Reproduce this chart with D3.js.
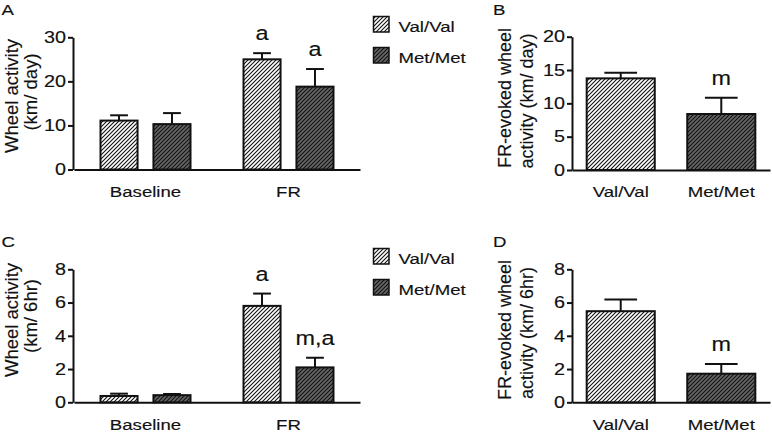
<!DOCTYPE html>
<html><head><meta charset="utf-8">
<script src="https://cdn.jsdelivr.net/npm/d3@7"></script>
<style>
html,body{margin:0;padding:0;background:#fff;}
svg{display:block;font-family:"Liberation Sans",Arial,sans-serif;}
svg text{stroke:#111;stroke-width:0.15px;}
</style></head>
<body>
<svg id="chart" width="772" height="432"></svg>
<script>
// ---------- data ----------
const genotypes = ["Val/Val", "Met/Met"];
const conditions = ["Baseline", "FR"];

// Panel A: wheel activity (km/day)
const dayValMean = [11.1, 25.0];
const dayValSem  = [1.2, 1.4];
const dayMetMean = [10.3, 18.8];
const dayMetSem  = [2.5, 4.0];
const dayValLetters = ["", "a"];
const dayMetLetters = ["", "a"];
const dayTicks = [0, 10, 20, 30];

// Panel B: FR-evoked wheel activity (km/day)
const evokedDayMean = [13.75, 8.4];
const evokedDaySem  = [0.85, 2.45];
const evokedDayLetters = ["", "m"];
const evokedDayTicks = [0, 5, 10, 15, 20];

// Panel C: wheel activity (km/6hr)
const hrValMean = [0.38, 5.8];
const hrValSem  = [0.14, 0.74];
const hrMetMean = [0.43, 2.1];
const hrMetSem  = [0.07, 0.58];
const hrValLetters = ["", "a"];
const hrMetLetters = ["", "m,a"];
const hrTicks = [0, 2, 4, 6, 8];

// Panel D: FR-evoked wheel activity (km/6hr)
const evokedHrMean = [5.48, 1.72];
const evokedHrSem  = [0.70, 0.58];
const evokedHrLetters = ["", "m"];
const evokedHrTicks = [0, 2, 4, 6, 8];

// ---------- drawing ----------
const SX = 1.2; // horizontal glyph stretch seen in the reference
const svg = d3.select("#chart");
const defs = svg.append("defs");

function hatch(id, bg, line, lw) {
  const p = defs.append("pattern").attr("id", id)
    .attr("patternUnits", "userSpaceOnUse").attr("width", 4).attr("height", 4);
  p.append("rect").attr("width", 4).attr("height", 4).attr("fill", bg);
  p.append("path").attr("d", "M-1,1 l2,-2 M0,4 l4,-4 M3,5 l2,-2")
    .attr("stroke", line).attr("stroke-width", lw).attr("stroke-linecap", "square");
}
hatch("hVal", "#ffffff", "#111", 1.1);
hatch("hMet", "#666666", "#111", 1.1);
const fillFor = g => g === "Val/Val" ? "url(#hVal)" : "url(#hMet)";

function txt(x, y, str, size, anchor = "start", rotate = false) {
  return svg.append("text")
    .attr("transform", `translate(${x},${y})` + (rotate ? " rotate(-90)" : ` scale(${SX},1)`))
    .attr("text-anchor", anchor)
    .attr("font-size", size)
    .attr("fill", "#111")
    .text(str);
}

function yAxis(y, ticks, x) {
  const g = svg.append("g").attr("transform", `translate(${x},0)`)
    .call(d3.axisLeft(y).tickValues(ticks).tickSize(5).tickSizeOuter(0).tickPadding(2));
  g.select(".domain").attr("stroke", "#111").attr("stroke-width", 2);
  g.selectAll(".tick line").attr("stroke", "#111").attr("stroke-width", 2);
  g.selectAll(".tick text")
    .attr("font-size", 16.5).attr("font-family", null).attr("fill", "#111")
    .attr("transform", `scale(${SX},1)`).attr("x", -7 / SX);
}

function xAxis(x, y0) {
  const g = svg.append("g").attr("transform", `translate(0,${y0})`)
    .call(d3.axisBottom(x).tickSize(0).tickSizeOuter(0));
  g.select(".domain").attr("stroke", "#111").attr("stroke-width", 2);
  g.selectAll(".tick text")
    .attr("font-size", 15.5).attr("font-family", null).attr("fill", "#111")
    .attr("dy", null).attr("y", 27.5).attr("transform", `scale(${SX},1)`);
}

function bar(x, w, y, mean, sem, genotype, letter) {
  const y0 = y(0);
  const top = y(mean + sem);
  const cx = x + w / 2;
  svg.append("line").attr("x1", cx).attr("x2", cx).attr("y1", y(mean)).attr("y2", top)
    .attr("stroke", "#111").attr("stroke-width", 2);
  svg.append("line").attr("x1", cx - w * 0.24).attr("x2", cx + w * 0.24).attr("y1", top).attr("y2", top)
    .attr("stroke", "#111").attr("stroke-width", 2);
  svg.append("rect").attr("x", x).attr("y", y(mean)).attr("width", w).attr("height", y0 - y(mean))
    .attr("fill", fillFor(genotype)).attr("stroke", "#111").attr("stroke-width", 2);
  if (letter) txt(cx, top - 13, letter, 19.5, "middle");
}

function groupedPanel(opts) {
  const y = d3.scaleLinear().domain([0, opts.max]).range([opts.yBottom, opts.yTop]);
  const x0 = d3.scaleBand().domain(conditions).range([opts.xLeft, opts.xRight]).padding(0);
  const x1 = d3.scaleBand().domain(genotypes).range([26.5, 116.5]).paddingInner(0.3).paddingOuter(0);
  const series = {
    "Val/Val": [opts.valMean, opts.valSem, opts.valLetters],
    "Met/Met": [opts.metMean, opts.metSem, opts.metLetters]
  };
  xAxis(x0, opts.yBottom);
  conditions.forEach((c, i) => {
    genotypes.forEach(gt => {
      const [m, s, l] = series[gt];
      bar(x0(c) + x1(gt), x1.bandwidth(), y, m[i], s[i], gt, l[i]);
    });
  });
  yAxis(y, opts.ticks, opts.xLeft - 1);
}

function simplePanel(opts) {
  const y = d3.scaleLinear().domain([0, opts.max]).range([opts.yBottom, opts.yTop]);
  const x = d3.scaleBand().domain(genotypes).range([opts.xLeft, opts.xRight])
    .paddingInner(0.323).paddingOuter(0.146);
  xAxis(x, opts.yBottom);
  genotypes.forEach((gt, i) => {
    bar(x(gt), x.bandwidth(), y, opts.mean[i], opts.sem[i], gt, opts.letters[i]);
  });
  yAxis(y, opts.ticks, opts.xLeft);
}

function legend(x, y) {
  genotypes.forEach((gt, i) => {
    const yy = y + i * 31;
    svg.append("rect").attr("x", x).attr("y", yy).attr("width", 15.5).attr("height", 15.5)
      .attr("fill", fillFor(gt)).attr("stroke", "#111").attr("stroke-width", 1.5);
    txt(x + 25, yy + 15, gt, 15.5);
  });
}

// Panel A
groupedPanel({max: 30, yTop: 37.3, yBottom: 169.5, xLeft: 74, xRight: 360, ticks: dayTicks,
  valMean: dayValMean, valSem: dayValSem, metMean: dayMetMean, metSem: dayMetSem,
  valLetters: dayValLetters, metLetters: dayMetLetters});
// Panel B
simplePanel({max: 20, yTop: 36.7, yBottom: 170, xLeft: 572, xRight: 770, ticks: evokedDayTicks,
  mean: evokedDayMean, sem: evokedDaySem, letters: evokedDayLetters});
// Panel C
groupedPanel({max: 8, yTop: 269.3, yBottom: 402.3, xLeft: 74, xRight: 360, ticks: hrTicks,
  valMean: hrValMean, valSem: hrValSem, metMean: hrMetMean, metSem: hrMetSem,
  valLetters: hrValLetters, metLetters: hrMetLetters});
// Panel D
simplePanel({max: 8, yTop: 269.3, yBottom: 402.3, xLeft: 572, xRight: 770, ticks: evokedHrTicks,
  mean: evokedHrMean, sem: evokedHrSem, letters: evokedHrLetters});

legend(373.5, 16.5);
legend(373.5, 248.5);

// panel letters
txt(1.5, 15, "A", 15.5);
txt(493, 15, "B", 15.5);
txt(1.5, 247, "C", 15.5);
txt(493, 247, "D", 15.5);

// y titles
txt(17.5, 96, "Wheel activity", 18.5, "middle", true);
txt(37, 92, "(km/ day)", 18.5, "middle", true);
txt(511, 98, "FR-evoked wheel", 18, "middle", true);
txt(533, 101, "activity (km/ day)", 18, "middle", true);
txt(17.5, 320, "Wheel activity", 18.5, "middle", true);
txt(37, 316, "(km/ 6hr)", 18.5, "middle", true);
txt(511, 330, "FR-evoked wheel", 18, "middle", true);
txt(533, 333, "activity (km/ 6hr)", 18, "middle", true);
</script>
</body></html>
